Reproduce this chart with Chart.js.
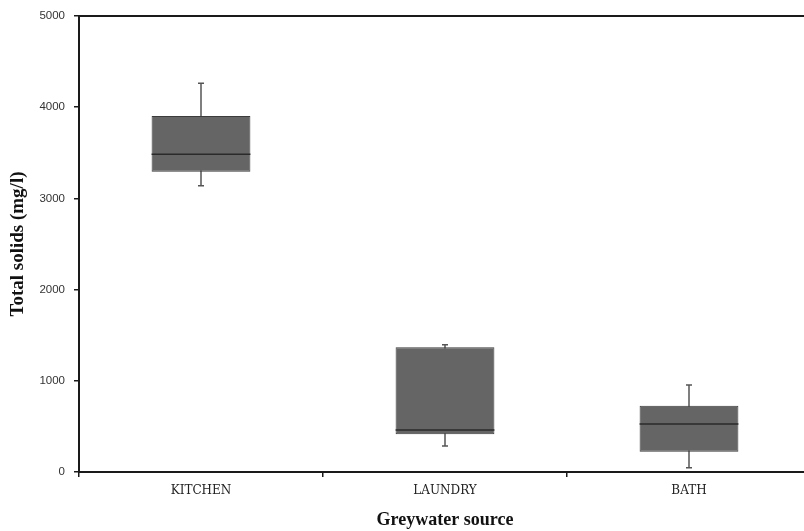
<!DOCTYPE html>
<html>
<head>
<meta charset="utf-8">
<script src="https://cdn.jsdelivr.net/npm/chart.js@4.4.1/dist/chart.umd.min.js"></script>
<style>
  html, body { margin: 0; padding: 0; background: #ffffff; overflow: hidden; width: 804px; height: 531px; }
  #wrap { width: 811px; height: 531px; position: relative; }
</style>
</head>
<body>
<div id="wrap"><canvas id="c"></canvas></div>
<script>
const categories = ["KITCHEN", "LAUNDRY", "BATH"];
const mins    = [3140, 285, 47];
const q1s     = [3293, 413, 223];
const medians = [3483, 460, 526];
const q3s     = [3904, 1367, 727];
const maxs    = [4262, 1396, 954];
const yTicks  = [0, 1000, 2000, 3000, 4000, 5000];

const boxData = categories.map((c, i) => [q1s[i], q3s[i]]);

const boxPlugin = {
  id: 'boxExtras',
  beforeDatasetsDraw(chart) {
    const ctx = chart.ctx;
    const x = chart.scales.x, y = chart.scales.y;
    ctx.save();
    ctx.strokeStyle = '#555555';
    ctx.lineWidth = 1.5;
    categories.forEach((c, i) => {
      const cx = x.getPixelForValue(i);
      const yMin = y.getPixelForValue(mins[i]);
      const yMax = y.getPixelForValue(maxs[i]);
      ctx.beginPath();
      ctx.moveTo(cx, yMin); ctx.lineTo(cx, yMax);
      ctx.moveTo(cx - 3, yMin); ctx.lineTo(cx + 3, yMin);
      ctx.moveTo(cx - 3, yMax); ctx.lineTo(cx + 3, yMax);
      ctx.stroke();
    });
    ctx.restore();
  },
  afterDatasetsDraw(chart) {
    const ctx = chart.ctx;
    const x = chart.scales.x, y = chart.scales.y;
    const meta = chart.getDatasetMeta(0);
    ctx.save();
    ctx.strokeStyle = '#2a2a2a';
    ctx.lineWidth = 1.5;
    categories.forEach((c, i) => {
      const bar = meta.data[i];
      const half = bar.width / 2;
      const cx = x.getPixelForValue(i);
      const ym = y.getPixelForValue(medians[i]);
      ctx.beginPath();
      ctx.moveTo(cx - half, ym); ctx.lineTo(cx + half, ym);
      ctx.stroke();
    });
    const a = chart.chartArea;
    ctx.strokeStyle = '#1a1a1a';
    ctx.lineWidth = 2;
    ctx.beginPath();
    ctx.moveTo(a.left - 1, a.top); ctx.lineTo(a.right, a.top);
    ctx.stroke();
    ctx.restore();
  }
};

new Chart(document.getElementById('c'), {
  type: 'bar',
  data: {
    labels: categories,
    datasets: [{
      data: boxData,
      backgroundColor: '#656565',
      borderColor: '#3c3c3c',
      borderWidth: 1,
      borderSkipped: false,
      categoryPercentage: 1.0,
      barPercentage: 0.405
    }]
  },
  options: {
    responsive: true,
    maintainAspectRatio: false,
    animation: false,
    devicePixelRatio: 1,
    layout: { padding: { top: 16, right: 0, left: 0, bottom: 0 } },
    plugins: { legend: { display: false }, tooltip: { enabled: false } },
    scales: {
      x: {
        offset: true,
        grid: { display: true, drawOnChartArea: false, drawTicks: true, tickLength: 5, offset: true, color: '#1a1a1a', lineWidth: 1.5 },
        border: { display: true, color: '#1a1a1a', width: 2 },
        ticks: { color: '#222222', font: { family: 'DejaVu Serif', size: 12 }, padding: 7 },
        title: { display: true, text: 'Greywater source', color: '#111111', font: { family: 'Liberation Serif', size: 18, weight: 'bold' }, padding: { top: 7, bottom: 0 } },
        afterFit(s) { s.height = 59; }
      },
      y: {
        min: 0, max: 5000,
        afterBuildTicks(s) { s.ticks = yTicks.map(v => ({ value: v })); },
        grid: { display: true, drawOnChartArea: false, drawTicks: true, tickLength: 5, color: '#1a1a1a', lineWidth: 1.5 },
        border: { display: true, color: '#1a1a1a', width: 2 },
        ticks: { color: '#333333', font: { family: 'Liberation Sans', size: 11.5 }, padding: 9, callback: (v) => String(v) },
        title: { display: true, text: 'Total solids (mg/l)', color: '#111111', font: { family: 'Liberation Serif', size: 19, weight: 'bold' }, padding: { top: 7, bottom: 0 } },
        afterFit(s) { s.width = 79; }
      }
    }
  },
  plugins: [boxPlugin]
});
</script>
</body>
</html>
